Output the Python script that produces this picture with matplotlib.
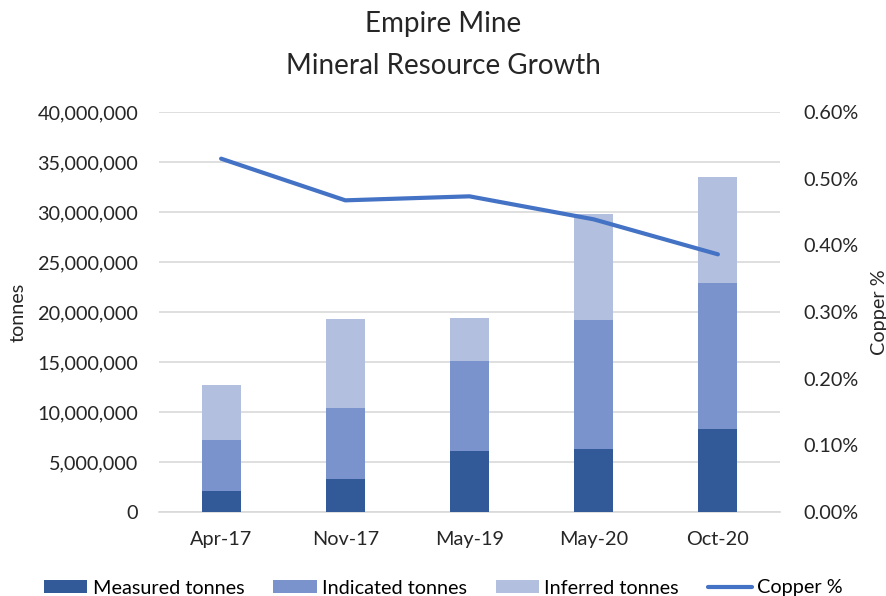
import matplotlib
matplotlib.use("Agg")
import matplotlib.pyplot as plt
import numpy as np
from matplotlib.ticker import FuncFormatter

plt.rcParams['font.family'] = ['Lato', 'DejaVu Sans']

categories = ["Apr-17", "Nov-17", "May-19", "May-20", "Oct-20"]
measured = [2.1e6, 3.27e6, 6.13e6, 6.33e6, 8.27e6]
indicated = [5.07e6, 7.13e6, 8.94e6, 12.9e6, 14.6e6]
inferred = [5.56e6, 8.93e6, 4.36e6, 10.54e6, 10.66e6]
copper = [0.530, 0.4675, 0.4735, 0.439, 0.3865]

c_meas = "#335a98"
c_ind = "#7a93cd"
c_inf = "#b3bfde"
c_line = "#4472c4"
tc = "#262626"
fs = 14.3

W, H = 886, 596
fig = plt.figure(figsize=(W / 100, H / 100), dpi=100)
ax = fig.add_axes([159 / W, 1 - 512 / H, (780 - 159) / W, 400 / H])
x = np.arange(len(categories))
w = 0.315
m = np.array(measured)
i = np.array(indicated)
f = np.array(inferred)
b1 = ax.bar(x, m, w, color=c_meas, label="Measured tonnes", zorder=3)
b2 = ax.bar(x, i, w, bottom=m, color=c_ind, label="Indicated tonnes", zorder=3)
b3 = ax.bar(x, f, w, bottom=m + i, color=c_inf, label="Inferred tonnes", zorder=3)

ax.set_xlim(-0.5, len(categories) - 0.5)
ax.set_ylim(0, 40e6)
ax.set_yticks(np.arange(0, 40e6 + 1, 5e6))
ax.yaxis.set_major_formatter(FuncFormatter(lambda v, p: f"{int(v):,}"))
ax.set_xticks(x)
ax.set_xticklabels(categories)
ax.grid(axis="y", color="#d9d9d9", linewidth=1.2, zorder=0)
for s in ["top", "right", "left"]:
    ax.spines[s].set_visible(False)
ax.spines["bottom"].set_color("#d9d9d9")
ax.spines["bottom"].set_linewidth(1.2)
ax.tick_params(axis="y", length=0, labelsize=fs, colors=tc, pad=15)
ax.tick_params(axis="x", length=0, labelsize=fs, colors=tc, pad=14)
ax.set_ylabel("tonnes", fontsize=fs, color=tc, labelpad=8)

ax2 = ax.twinx()
ln, = ax2.plot(x, copper, color=c_line, linewidth=3, label="Copper %", zorder=4,
               solid_capstyle="round")
ax2.set_ylim(0, 0.6)
ax2.set_yticks(np.arange(0, 0.61, 0.1))
ax2.yaxis.set_major_formatter(FuncFormatter(lambda v, p: f"{v:.2f}%"))
for s in ["top", "right", "left", "bottom"]:
    ax2.spines[s].set_visible(False)
ax2.tick_params(axis="y", length=0, labelsize=fs, colors=tc, pad=16.5)
ax2.set_ylabel("Copper %", fontsize=fs, color=tc, labelpad=9)

fig.text(0.5, 1 - 24 / H, "Empire Mine", ha="center", va="center", fontsize=20, color=tc)
fig.text(0.5, 1 - 66 / H, "Mineral Resource Growth", ha="center", va="center", fontsize=20, color=tc)

fig.legend([b1, b2, b3, ln], ["Measured tonnes", "Indicated tonnes", "Inferred tonnes", "Copper %"],
           loc="center", bbox_to_anchor=(0.5, 1 - 588 / H), ncol=4, frameon=False,
           fontsize=fs, handlelength=2.2, handleheight=0.57, columnspacing=1.45,
           handletextpad=0.26, borderpad=0, borderaxespad=0)

fig.savefig("out.png", dpi=100)
